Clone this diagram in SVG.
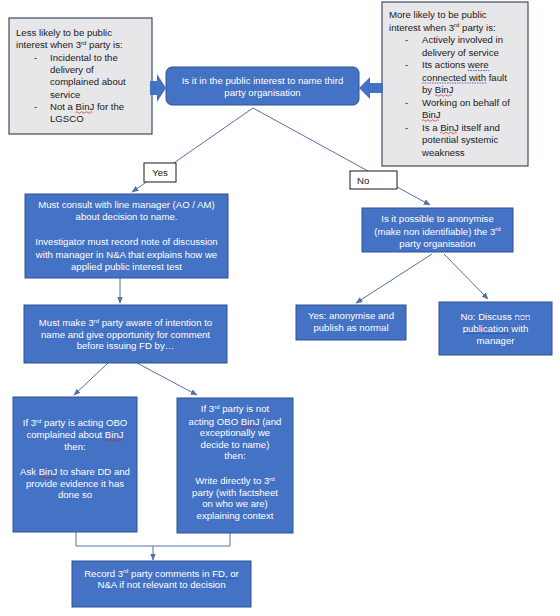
<svg xmlns="http://www.w3.org/2000/svg" width="560" height="616" viewBox="0 0 560 616">
<defs>
<style>
.t{font-family:"Liberation Sans",Arial,sans-serif;font-size:9.6px}
.w{fill:#ffffff}
.k{fill:#1a1a1a}
.c{text-anchor:middle}
.blue{fill:#4472C4;stroke:#2F528F;stroke-width:1}
.gray{fill:#E7E6E9;stroke:#3E4B60;stroke-width:1.2}
.lbl{fill:#ffffff;stroke:#1a1a1a;stroke-width:1}
.ln{fill:none;stroke:#5570A6;stroke-width:1}
.sq{fill:none;stroke:#d02020;stroke-width:0.7}
.bu{fill:none;stroke:#3050c0;stroke-width:0.8}
.bd{fill:none;stroke:#3050c0;stroke-width:0.8;stroke-dasharray:1.5 1}
</style>
<marker id="ah" viewBox="0 0 10 10" refX="9" refY="5" markerWidth="7" markerHeight="7" markerUnits="userSpaceOnUse" orient="auto">
<path d="M0,1 L10,5 L0,9 Z" fill="#5570A6"/>
</marker>
</defs>

<g id="less-likely">
<rect class="gray" x="9" y="18" width="143" height="116"/>
<text class="t k" x="16" y="36">Less likely to be public</text>
<text class="t k" x="16" y="48.3">interest when 3<tspan font-size="6" dy="-3.5">rd</tspan><tspan dy="3.5"> party is:</tspan></text>
<text class="t k" x="34" y="60.6">-</text>
<text class="t k" x="50" y="60.6">Incidental to the</text>
<text class="t k" x="50" y="72.9">delivery of</text>
<text class="t k" x="50" y="85.2">complained about</text>
<text class="t k" x="50" y="97.5">service</text>
<text class="t k" x="34" y="109.8">-</text>
<text class="t k" x="50" y="109.8">Not a BinJ for the</text>
<text class="t k" x="50" y="122.1">LGSCO</text>
<path class="sq" d="M75.6,112.5 q1.2,-1.5 2.4,0 t2.4,0 t2.4,0 t2.4,0 t2.4,0 t2.4,0 t2.4,0"/>
</g>

<g id="more-likely">
<rect class="gray" x="382" y="2" width="146" height="164"/>
<text class="t k" x="389" y="18">More likely to be public</text>
<text class="t k" x="389" y="30.5">interest when 3<tspan font-size="6" dy="-3.5">rd</tspan><tspan dy="3.5"> party is:</tspan></text>
<text class="t k" x="405" y="43">-</text>
<text class="t k" x="422" y="43">Actively involved in</text>
<text class="t k" x="422" y="55.5">delivery of service</text>
<text class="t k" x="405" y="68">-</text>
<text class="t k" x="422" y="68">Its actions were</text>
<text class="t k" x="422" y="80.5">connected with fault</text>
<text class="t k" x="422" y="93">by BinJ</text>
<text class="t k" x="405" y="105.5">-</text>
<text class="t k" x="422" y="105.5">Working on behalf of</text>
<text class="t k" x="422" y="118">BinJ</text>
<text class="t k" x="405" y="130.5">-</text>
<text class="t k" x="422" y="130.5">Is a BinJ itself and</text>
<text class="t k" x="422" y="143">potential systemic</text>
<text class="t k" x="422" y="155.5">weakness</text>
<path class="bd" d="M468,70.5 H489"/>
<path class="bd" d="M422,83 H486"/>
<path class="sq" d="M435,95.5 q1.2,-1.5 2.4,0 t2.4,0 t2.4,0 t2.4,0 t2.4,0 t2.4,0 t2.4,0"/>
<path class="sq" d="M422,120.5 q1.2,-1.5 2.4,0 t2.4,0 t2.4,0 t2.4,0 t2.4,0 t2.4,0 t2.4,0"/>
<path class="sq" d="M440,133 q1.2,-1.5 2.4,0 t2.4,0 t2.4,0 t2.4,0 t2.4,0 t2.4,0 t2.4,0"/>
</g>

<g id="block-arrows">
<path fill="#4472C4" d="M150,81 H157 V74 L166,88 L157,102 V95 H150 Z"/>
<path fill="#4472C4" d="M383,83 H370 V77 L359,88 L370,99 V93 H383 Z"/>
</g>

<g id="public-interest">
<rect class="blue" x="166" y="67" width="193" height="38" rx="6"/>
<text class="t w c" x="262.5" y="84">Is it in the public interest to name third</text>
<text class="t w c" x="262.5" y="96">party organisation</text>
</g>

<g id="connectors">
<path class="ln" d="M253,108 L132,192" marker-end="url(#ah)"/>
<path class="ln" d="M253,108 L430,205" marker-end="url(#ah)"/>
<path class="ln" d="M120,278 V303" marker-end="url(#ah)"/>
<path class="ln" d="M108,363 L74,395" marker-end="url(#ah)"/>
<path class="ln" d="M137,363 L197,395" marker-end="url(#ah)"/>
<path class="ln" d="M432,254 L356,303" marker-end="url(#ah)"/>
<path class="ln" d="M444,254 L488,299" marker-end="url(#ah)"/>
<path class="ln" d="M76,532 V546 H230 V533"/>
<path class="ln" d="M153,546 V560" marker-end="url(#ah)"/>
</g>

<g id="yes-label">
<rect class="lbl" x="144" y="163" width="32" height="19"/>
<text class="t k c" x="160" y="176">Yes</text>
</g>

<g id="no-label">
<rect class="lbl" x="350" y="171" width="47" height="18"/>
<text class="t k" x="357" y="183.5">No</text>
</g>

<g id="consult-manager">
<rect class="blue" x="25" y="194" width="203" height="84"/>
<text class="t w c" x="126.5" y="207.5">Must consult with line manager (AO / AM)</text>
<text class="t w c" x="126.5" y="220">about decision to name.</text>
<text class="t w c" x="126.5" y="245">Investigator must record note of discussion</text>
<text class="t w c" x="126.5" y="257.5">with manager in N&amp;A that explains how we</text>
<text class="t w c" x="126.5" y="270">applied public interest test</text>
</g>

<g id="make-aware">
<rect class="blue" x="24" y="305" width="203" height="58"/>
<text class="t w c" x="125.5" y="326">Must make 3<tspan font-size="6" dy="-3.5">rd</tspan><tspan dy="3.5"> party aware of intention to</tspan></text>
<text class="t w c" x="125.5" y="337.5">name and give opportunity for comment</text>
<text class="t w c" x="125.5" y="349">before issuing FD by…</text>
</g>

<g id="acting-obo">
<rect class="blue" x="13" y="397" width="124" height="135"/>
<text class="t w c" x="75" y="426">If 3<tspan font-size="6" dy="-3.5">rd</tspan><tspan dy="3.5"> party is acting OBO</tspan></text>
<text class="t w c" x="75" y="438">complained about BinJ</text>
<text class="t w c" x="75" y="449.5">then:</text>
<text class="t w c" x="75" y="475">Ask BinJ to share DD and</text>
<text class="t w c" x="75" y="486.5">provide evidence it has</text>
<text class="t w c" x="75" y="498">done so</text>
<path class="sq" d="M105,440.5 q1.2,-1.5 2.4,0 t2.4,0 t2.4,0 t2.4,0 t2.4,0 t2.4,0 t2.4,0"/>
<path class="sq" d="M39,477.5 q1.2,-1.5 2.4,0 t2.4,0 t2.4,0 t2.4,0 t2.4,0 t2.4,0 t2.4,0"/>
</g>

<g id="not-acting-obo">
<rect class="blue" x="177" y="398" width="116" height="135"/>
<text class="t w c" x="235" y="412">If 3<tspan font-size="6" dy="-3.5">rd</tspan><tspan dy="3.5"> party is not</tspan></text>
<text class="t w c" x="235" y="424.5">acting OBO BinJ (and</text>
<text class="t w c" x="235" y="436">exceptionally we</text>
<text class="t w c" x="235" y="447.5">decide to name)</text>
<text class="t w c" x="235" y="459">then:</text>
<text class="t w c" x="235" y="484">Write directly to 3<tspan font-size="6" dy="-3.5">rd</tspan></text>
<text class="t w c" x="235" y="495.5">party (with factsheet</text>
<text class="t w c" x="235" y="507">on who we are)</text>
<text class="t w c" x="235" y="518.5">explaining context</text>
<path class="sq" d="M241,427 q1.2,-1.5 2.4,0 t2.4,0 t2.4,0 t2.4,0 t2.4,0 t2.4,0 t2.4,0"/>
</g>

<g id="record-comments">
<rect class="blue" x="72" y="561" width="179" height="46"/>
<text class="t w c" x="161.5" y="576.5">Record 3<tspan font-size="6" dy="-3.5">rd</tspan><tspan dy="3.5"> party comments in FD, or</tspan></text>
<text class="t w c" x="161.5" y="587.5">N&amp;A if not relevant to decision</text>
<path class="bu" d="M212,578.5 H238"/>
</g>

<g id="anonymise-question">
<rect class="blue" x="362" y="208" width="151" height="44"/>
<text class="t w c" x="437.5" y="222">Is it possible to anonymise</text>
<text class="t w c" x="437.5" y="234.5">(make non identifiable) the 3<tspan font-size="6" dy="-3.5">rd</tspan></text>
<text class="t w c" x="437.5" y="246.5">party organisation</text>
</g>

<g id="yes-anonymise">
<rect class="blue" x="296" y="305" width="110" height="35"/>
<text class="t w c" x="351" y="319">Yes: anonymise and</text>
<text class="t w c" x="351" y="331">publish as normal</text>
</g>

<g id="no-discuss">
<rect class="blue" x="439" y="302" width="113" height="53"/>
<text class="t w c" x="495.5" y="320">No: Discuss non</text>
<text class="t w c" x="495.5" y="332">publication with</text>
<text class="t w c" x="495.5" y="344">manager</text>
<path class="bu" d="M514,318 H531"/>
<path class="bu" d="M463,333.5 H509"/>
</g>
</svg>
